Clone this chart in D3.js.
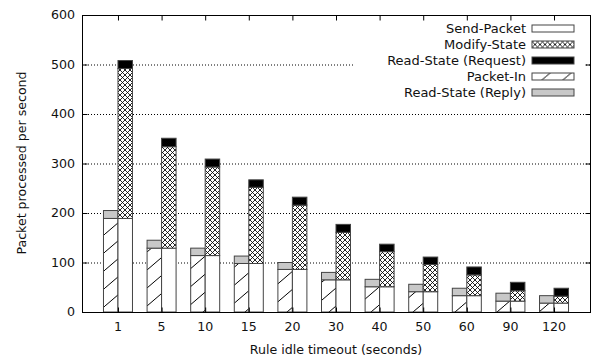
<!DOCTYPE html>
<html>
<head>
<meta charset="utf-8">
<script src="https://cdn.jsdelivr.net/npm/d3@7"></script>
<style>
  body { margin: 0; background: #fff; }
  text { font-family: "DejaVu Sans", sans-serif; fill: #111; }
</style>
</head>
<body>
<div id="chart"></div>
<script>
var categories = ["1", "5", "10", "15", "20", "30", "40", "50", "60", "90", "120"];
var packetIn   = [189, 129, 114, 98, 86, 65, 51, 41, 33, 22, 18];
var replyState = [16, 16, 15, 15, 14, 15, 15, 15, 15, 16, 15];
var sendPacket = [189, 129, 114, 98, 86, 65, 51, 41, 33, 22, 18];
var modifyState = [303, 205, 179, 154, 130, 96, 71, 55, 42, 21, 14];
var requestState = [16, 17, 16, 15, 16, 16, 15, 15, 16, 17, 16];
var yTicks = [0, 100, 200, 300, 400, 500, 600];

var width = 592, height = 358;
var plotLeft = 82, plotRight = 590, plotTop = 15, plotBottom = 312;
var barW = 14.5;
var fontSize = 12.6;

var svg = d3.select("#chart").append("svg")
    .attr("width", width)
    .attr("height", height);

// fill patterns
var defs = svg.append("defs");
var hatch = defs.append("pattern")
    .attr("id", "hatch")
    .attr("patternUnits", "userSpaceOnUse")
    .attr("width", 21).attr("height", 18);
hatch.append("rect").attr("width", 21).attr("height", 18).attr("fill", "#fff");
[[0, 18, 21, 0], [-21, 18, 0, 0], [21, 18, 42, 0]].forEach(function(l) {
    hatch.append("line")
        .attr("x1", l[0]).attr("y1", l[1]).attr("x2", l[2]).attr("y2", l[3])
        .attr("stroke", "#000").attr("stroke-width", 1);
});
var cross = defs.append("pattern")
    .attr("id", "cross")
    .attr("patternUnits", "userSpaceOnUse")
    .attr("width", 5).attr("height", 5);
cross.append("rect").attr("width", 5).attr("height", 5).attr("fill", "#fff");
cross.append("path").attr("d", "M0,0L5,5M5,0L0,5")
    .attr("stroke", "#000").attr("stroke-width", 0.85);

var x = d3.scalePoint()
    .domain(categories)
    .range([plotLeft, plotRight])
    .padding(0.825);
var y = d3.scaleLinear()
    .domain([0, 600])
    .range([plotBottom, plotTop]);

// grid
svg.append("g").selectAll("line")
    .data(yTicks.filter(function(d) { return d > 0 && d < 600; }))
    .join("line")
    .attr("x1", plotLeft).attr("x2", plotRight)
    .attr("y1", function(d) { return y(d) + 0.5; })
    .attr("y2", function(d) { return y(d) + 0.5; })
    .attr("stroke", "#000")
    .attr("stroke-width", 1)
    .attr("stroke-dasharray", "1,2");

// stacked bars
var rows = categories.map(function(c, i) {
    return { cat: c, packetIn: packetIn[i], reply: replyState[i],
             send: sendPacket[i], modify: modifyState[i], request: requestState[i] };
});
var leftStack = d3.stack().keys(["packetIn", "reply"])(rows);
var rightStack = d3.stack().keys(["send", "modify", "request"])(rows);
var fills = { packetIn: "url(#hatch)", reply: "#c8c8c8", send: "#fff", modify: "url(#cross)", request: "#000" };

function drawStack(series, offset) {
    svg.append("g").selectAll("g")
        .data(series)
        .join("g")
        .attr("fill", function(s) { return fills[s.key]; })
        .selectAll("rect")
        .data(function(s) { return s; })
        .join("rect")
        .attr("x", function(d) { return x(d.data.cat) + offset; })
        .attr("width", barW)
        .attr("y", function(d) { return y(d[1]); })
        .attr("height", function(d) { return y(d[0]) - y(d[1]); })
        .attr("stroke", "#444")
        .attr("stroke-width", 1);
}
drawStack(leftStack, -barW);
drawStack(rightStack, 0);

// legend
var legendItems = [
    { label: "Send-Packet", key: "send" },
    { label: "Modify-State", key: "modify" },
    { label: "Read-State (Request)", key: "request" },
    { label: "Packet-In", key: "packetIn" },
    { label: "Read-State (Reply)", key: "reply" }
];
svg.append("rect")
    .attr("x", 354).attr("y", 19)
    .attr("width", 230).attr("height", 81)
    .attr("fill", "#fff");
var lg = svg.append("g").selectAll("g")
    .data(legendItems)
    .join("g")
    .attr("transform", function(d, i) { return "translate(0," + (28.5 + i * 16) + ")"; });
lg.append("text")
    .attr("x", 526).attr("dy", "0.35em")
    .attr("text-anchor", "end")
    .attr("font-size", 13)
    .text(function(d) { return d.label; });
lg.append("rect")
    .attr("x", 532).attr("y", -3.5)
    .attr("width", 42).attr("height", 7)
    .attr("fill", function(d) { return fills[d.key]; })
    .attr("stroke", "#444");

// frame and ticks
svg.append("rect")
    .attr("x", plotLeft + 0.5).attr("y", plotTop + 0.5)
    .attr("width", plotRight - plotLeft).attr("height", plotBottom - plotTop)
    .attr("fill", "none").attr("stroke", "#000").attr("stroke-width", 1);

var yAxisL = svg.append("g").attr("transform", "translate(" + (plotLeft + 0.5) + ",0)")
    .call(d3.axisRight(y).tickValues(yTicks).tickSize(5).tickFormat(""));
var yAxisR = svg.append("g").attr("transform", "translate(" + (plotRight + 0.5) + ",0)")
    .call(d3.axisLeft(y).tickValues(yTicks).tickSize(5).tickFormat(""));
var xAxisT = svg.append("g").attr("transform", "translate(0," + (plotTop + 0.5) + ")")
    .call(d3.axisBottom(x).tickSize(5).tickFormat(""));
var xAxisB = svg.append("g").attr("transform", "translate(0," + (plotBottom + 0.5) + ")")
    .call(d3.axisTop(x).tickSize(5).tickFormat(""));
[yAxisL, yAxisR, xAxisT, xAxisB].forEach(function(a) {
    a.select(".domain").remove();
    a.selectAll("line").attr("stroke", "#000");
});

svg.append("g").selectAll("text")
    .data(yTicks)
    .join("text")
    .attr("x", 75).attr("y", function(d) { return y(d); })
    .attr("dy", "0.35em")
    .attr("text-anchor", "end")
    .attr("font-size", fontSize)
    .text(function(d) { return d; });

svg.append("g").selectAll("text")
    .data(categories)
    .join("text")
    .attr("x", function(d) { return x(d); })
    .attr("y", 331)
    .attr("text-anchor", "middle")
    .attr("font-size", fontSize)
    .text(function(d) { return d; });

svg.append("text")
    .attr("x", 336).attr("y", 354)
    .attr("text-anchor", "middle")
    .attr("font-size", fontSize)
    .text("Rule idle timeout (seconds)");

svg.append("text")
    .attr("transform", "translate(26,163) rotate(-90)")
    .attr("text-anchor", "middle")
    .attr("font-size", fontSize)
    .text("Packet processed per second");
</script>
</body>
</html>
